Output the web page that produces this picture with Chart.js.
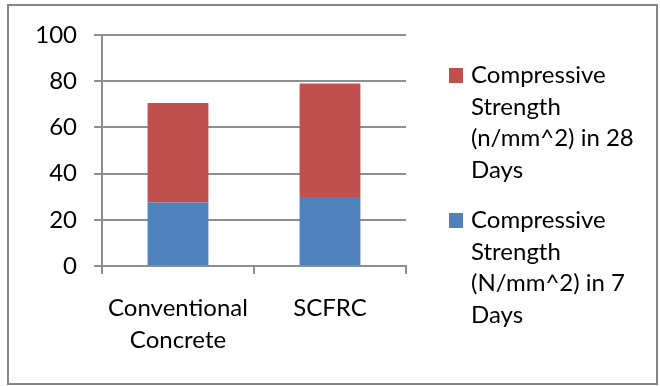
<!DOCTYPE html>
<html>
<head>
<meta charset="utf-8">
<script src="https://cdn.jsdelivr.net/npm/chart.js@4"></script>
<style>
  body { margin: 0; background: #fff; }
  #wrap { position: relative; width: 660px; height: 386px; }
  #frame { position: absolute; left: 7px; top: 4px; width: 647px; height: 377px; border: 2px solid #868686; pointer-events: none; }
  #legend { position: absolute; left: 449px; top: 58px; font-family: Lato, sans-serif; font-size: 24px; line-height: 31.7px; color: #000; }
  .item { position: relative; padding-left: 22px; margin-bottom: 18px; }
  .item .sw { position: absolute; left: 0; top: 10px; width: 14px; height: 15px; }
</style>
</head>
<body>
<div id="wrap">
  <canvas id="myChart" width="660" height="386"></canvas>
  <div id="legend"></div>
  <div id="frame"></div>
</div>
<script>
const categories = [['Conventional', 'Concrete'], 'SCFRC'];
const strength7 = [27.5, 29.9];
const strength28 = [43.1, 49.1];
const seriesNames = ['Compressive Strength (N/mm^2) in 7 Days', 'Compressive Strength (n/mm^2) in 28 Days'];
const legendLines = [
  ['Compressive', 'Strength', '(N/mm^2) in 7', 'Days'],
  ['Compressive', 'Strength', '(n/mm^2) in 28', 'Days']
];
const seriesColors = ['#4F81BD', '#C0504D'];
const yMin = 0, yMax = 100, yStep = 20;

const gridColor = '#8e8e8e';
const font = { family: 'Lato, sans-serif', size: 24 };

const ctx = document.getElementById('myChart').getContext('2d');
const chart = new Chart(ctx, {
  type: 'bar',
  data: {
    labels: categories,
    datasets: [
      { label: seriesNames[0], data: strength7, backgroundColor: seriesColors[0] },
      { label: seriesNames[1], data: strength28, backgroundColor: seriesColors[1] }
    ]
  },
  options: {
    responsive: false,
    animation: false,
    events: [],
    layout: { padding: { left: 0, right: 254, top: 35, bottom: 0 } },
    plugins: { legend: { display: false }, tooltip: { enabled: false } },
    datasets: { bar: { categoryPercentage: 1, barPercentage: 0.4 } },
    scales: {
      x: {
        stacked: true,
        grid: { drawOnChartArea: false, drawTicks: true, tickLength: 8, color: gridColor, lineWidth: 2, offset: true },
        border: { color: gridColor, width: 2 },
        ticks: { color: '#000', font: { ...font, lineHeight: 1.33 }, padding: 18, maxRotation: 0 },
        afterFit: s => { s.height = 120; }
      },
      y: {
        stacked: true,
        min: yMin,
        max: yMax,
        grid: { color: gridColor, lineWidth: 2, tickLength: 8 },
        border: { color: gridColor, width: 2 },
        ticks: { stepSize: yStep, color: '#000', font: font, padding: 17 },
        afterFit: s => { s.width = 102; }
      }
    }
  }
});

// legend in html, top entry is the top stack
const legend = document.getElementById('legend');
for (let i = seriesNames.length - 1; i >= 0; i--) {
  const item = document.createElement('div');
  item.className = 'item';
  item.innerHTML = '<span class="sw" style="background:' + seriesColors[i] + '"></span>' + legendLines[i].join('<br>');
  legend.appendChild(item);
}
</script>
</body>
</html>
